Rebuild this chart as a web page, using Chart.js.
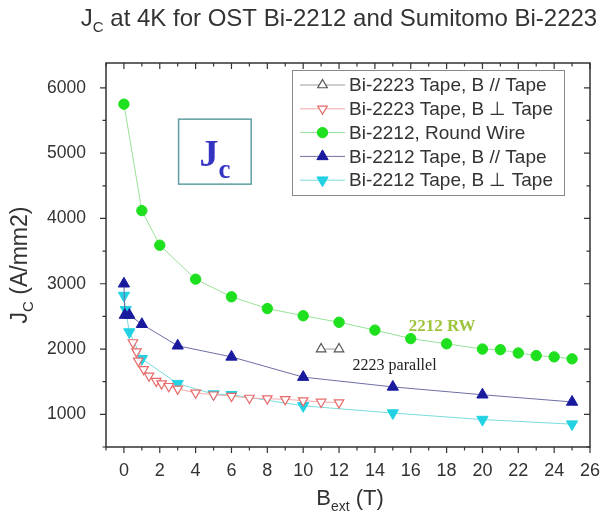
<!DOCTYPE html>
<html>
<head>
<meta charset="utf-8">
<script src="https://cdn.jsdelivr.net/npm/chart.js@4.4.0/dist/chart.umd.min.js"></script>
<style>
  html, body { margin: 0; padding: 0; background: #fff; }
  #wrap { width: 614px; height: 524px; }
</style>
</head>
<body>
<div id="wrap"><canvas id="myChart" width="614" height="524"></canvas></div>
<script>
// field (T) and Jc (A/mm2)
const rwField = [0, 1, 2, 4, 6, 8, 10, 12, 14, 16, 18, 20, 21, 22, 23, 24, 25];
const rwJc = [5750, 4120, 3590, 3070, 2800, 2620, 2510, 2410, 2290, 2160, 2080, 2000, 1990, 1940, 1900, 1880, 1850];

const tapeParField = [0, 0.05, 0.3, 1, 3, 6, 10, 15, 20, 25];
const tapeParJc = [3000, 2520, 2520, 2380, 2050, 1880, 1570, 1420, 1300, 1190];

const tapePerpField = [0, 0.1, 0.3, 1, 3, 5, 6, 10, 15, 20, 25];
const tapePerpJc = [2820, 2600, 2260, 1850, 1470, 1310, 1300, 1130, 1020, 920, 850];

const b2223PerpField = [0.5, 0.7, 0.8, 1.1, 1.4, 1.8, 2.1, 2.5, 3, 4, 5, 6, 7, 8, 9, 10, 11, 12];
const b2223PerpJc = [2100, 1960, 1820, 1690, 1590, 1510, 1470, 1430, 1390, 1330, 1300, 1280, 1250, 1240, 1230, 1210, 1190, 1180];

const b2223ParField = [11, 12];
const b2223ParJc = [2000, 2000];

const seriesNames = [
    'Bi-2223 Tape, B // Tape',
    'Bi-2223 Tape, B \u22a5 Tape',
    'Bi-2212, Round Wire',
    'Bi-2212 Tape, B // Tape',
    'Bi-2212 Tape, B \u22a5 Tape'
];

const xTickLabels = [0, 2, 4, 6, 8, 10, 12, 14, 16, 18, 20, 22, 24, 26];
const yTicks = [500, 1000, 1500, 2000, 2500, 3000, 3500, 4000, 4500, 5000, 5500, 6000];
const yTickLabels = [1000, 2000, 3000, 4000, 5000, 6000];

const SANS = '"Liberation Sans", Arial, sans-serif';
const SERIF = '"Liberation Serif", "Times New Roman", serif';

function pts(xs, ys) {
    return xs.map((x, i) => ({ x: x, y: ys[i] }));
}

const styles = [
    { line: '#9a9a9a', fill: '#ffffff', border: '#555555', pointStyle: 'triangle', rotation: 0, radius: 5.5, bw: 1.2 },
    { line: '#f2aaaa', fill: '#ffffff', border: '#e86a6a', pointStyle: 'triangle', rotation: 180, radius: 5.5, bw: 1.2 },
    { line: '#98e298', fill: '#1ee01e', border: '#1ee01e', pointStyle: 'circle', rotation: 0, radius: 5.2, bw: 1 },
    { line: '#6e6ea6', fill: '#1a1a9e', border: '#1a1a9e', pointStyle: 'triangle', rotation: 0, radius: 6.5, bw: 1 },
    { line: '#7adcdc', fill: '#22d2e2', border: '#22d2e2', pointStyle: 'triangle', rotation: 180, radius: 6.5, bw: 1 }
];

const seriesData = [
    pts(b2223ParField, b2223ParJc),
    pts(b2223PerpField, b2223PerpJc),
    pts(rwField, rwJc),
    pts(tapeParField, tapeParJc),
    pts(tapePerpField, tapePerpJc)
];

const datasets = seriesData.map((d, i) => ({
    label: seriesNames[i],
    data: d,
    borderColor: styles[i].line,
    borderWidth: 1,
    backgroundColor: styles[i].fill,
    pointBackgroundColor: styles[i].fill,
    pointBorderColor: styles[i].border,
    pointBorderWidth: styles[i].bw,
    pointStyle: styles[i].pointStyle,
    pointRotation: styles[i].rotation,
    pointRadius: styles[i].radius,
    tension: 0
}));

// text with a subscript part, laid out from x on baseline y
function subText(ctx, parts, x, y, align) {
    let total = 0;
    parts.forEach(p => { ctx.font = p.font; total += ctx.measureText(p.text).width; });
    let cx = align === 'center' ? x - total / 2 : x;
    parts.forEach(p => {
        ctx.font = p.font;
        ctx.fillStyle = p.color;
        ctx.textAlign = 'left';
        ctx.textBaseline = 'alphabetic';
        ctx.fillText(p.text, cx, y + (p.dy || 0));
        cx += ctx.measureText(p.text).width;
    });
}

const decor = {
    id: 'decor',
    afterDatasetsDraw(chart) {
        const ctx = chart.ctx;
        const a = chart.chartArea;
        const sx = chart.scales.x, sy = chart.scales.y;
        ctx.save();

        // frame
        ctx.strokeStyle = '#333';
        ctx.lineWidth = 1.5;
        ctx.strokeRect(a.left, a.top, a.right - a.left, a.bottom - a.top);

        // ticks: out on left/bottom, in on top/right
        ctx.lineWidth = 1.2;
        ctx.beginPath();
        sx.ticks.forEach(t => {
            const px = sx.getPixelForValue(t.value);
            const len = xTickLabels.includes(t.value) ? 6 : 3.5;
            ctx.moveTo(px, a.bottom); ctx.lineTo(px, a.bottom + len);
            ctx.moveTo(px, a.top); ctx.lineTo(px, a.top + len);
        });
        sy.ticks.forEach(t => {
            const py = sy.getPixelForValue(t.value);
            const len = yTickLabels.includes(t.value) ? 6 : 3.5;
            ctx.moveTo(a.left, py); ctx.lineTo(a.left - len, py);
            ctx.moveTo(a.right, py); ctx.lineTo(a.right - len, py);
        });
        ctx.stroke();

        // legend
        const lx = 292, ly = 70, lw = 272, lh = 125;
        ctx.fillStyle = '#fff';
        ctx.fillRect(lx, ly, lw, lh);
        ctx.strokeStyle = '#888';
        ctx.lineWidth = 1;
        ctx.strokeRect(lx + 0.5, ly + 0.5, lw, lh);
        seriesNames.forEach((name, i) => {
            const ry = 85 + i * 23.8;
            const st = styles[i];
            ctx.strokeStyle = st.line;
            ctx.lineWidth = 1;
            ctx.beginPath();
            ctx.moveTo(300, ry); ctx.lineTo(345, ry);
            ctx.stroke();
            ctx.fillStyle = st.fill;
            ctx.strokeStyle = st.border;
            ctx.lineWidth = st.bw;
            Chart.helpers.drawPoint(ctx, {
                pointStyle: st.pointStyle, rotation: st.rotation,
                radius: st.radius, borderWidth: st.bw
            }, 322.5, ry);
            ctx.fillStyle = '#333';
            ctx.font = '19px ' + SANS;
            ctx.textAlign = 'left';
            ctx.textBaseline = 'middle';
            ctx.fillText(name, 349, ry + 1);
        });

        // Jc box
        const bx1 = sx.getPixelForValue(3.05), bx2 = sx.getPixelForValue(7.1);
        const by1 = sy.getPixelForValue(5520), by2 = sy.getPixelForValue(4525);
        ctx.strokeStyle = '#5f9ea0';
        ctx.lineWidth = 1.5;
        ctx.strokeRect(bx1, by1, bx2 - bx1, by2 - by1);
        subText(ctx, [
            { text: 'J', font: 'bold 38px ' + SERIF, color: '#3434c4' },
            { text: 'c', font: 'bold 27px ' + SERIF, color: '#3434c4', dy: 12 }
        ], (bx1 + bx2) / 2, by1 + 47, 'center');

        // series notes
        ctx.font = 'bold 17px ' + SERIF;
        ctx.fillStyle = '#9cc43a';
        ctx.textAlign = 'center';
        ctx.textBaseline = 'middle';
        ctx.fillText('2212 RW', sx.getPixelForValue(17.75), sy.getPixelForValue(2340));
        ctx.font = '16px ' + SERIF;
        ctx.fillStyle = '#222';
        ctx.fillText('2223 parallel', sx.getPixelForValue(15.1), sy.getPixelForValue(1740));

        // title
        subText(ctx, [
            { text: 'J', font: '24px ' + SANS, color: '#333' },
            { text: 'C', font: '15px ' + SANS, color: '#333', dy: 6 },
            { text: ' at 4K for OST Bi-2212 and Sumitomo Bi-2223', font: '24px ' + SANS, color: '#333' }
        ], 339, 26, 'center');

        // x axis title
        subText(ctx, [
            { text: 'B', font: '22px ' + SANS, color: '#333' },
            { text: 'ext', font: '14px ' + SANS, color: '#333', dy: 6 },
            { text: ' (T)', font: '22px ' + SANS, color: '#333' }
        ], 350, 505, 'center');

        // y axis title
        ctx.translate(27, 265);
        ctx.rotate(-Math.PI / 2);
        subText(ctx, [
            { text: 'J', font: '23px ' + SANS, color: '#333' },
            { text: 'C', font: '15px ' + SANS, color: '#333', dy: 6 },
            { text: ' (A/mm2)', font: '23px ' + SANS, color: '#333' }
        ], 0, 0, 'center');

        ctx.restore();
    }
};

const ctx = document.getElementById('myChart');

new Chart(ctx, {
    type: 'line',
    data: { datasets: datasets },
    options: {
        responsive: false,
        animation: false,
        layout: { padding: { top: 63, right: 24, left: 0, bottom: 0 } },
        plugins: {
            legend: { display: false },
            title: { display: false },
            tooltip: { enabled: false }
        },
        scales: {
            x: {
                type: 'linear',
                min: -1,
                max: 26,
                grid: { display: false },
                border: { display: false },
                afterFit: s => { s.height = 77; },
                ticks: {
                    stepSize: 1,
                    autoSkip: false,
                    maxRotation: 0,
                    padding: 5,
                    color: '#333',
                    font: { family: SANS, size: 18 },
                    callback: v => xTickLabels.includes(v) ? String(v) : ''
                }
            },
            y: {
                type: 'linear',
                min: 500,
                max: 6380,
                grid: { display: false },
                border: { display: false },
                afterFit: s => { s.width = 106; },
                afterBuildTicks: s => { s.ticks = yTicks.map(v => ({ value: v })); },
                ticks: {
                    autoSkip: false,
                    padding: 12,
                    color: '#333',
                    font: { family: SANS, size: 17.5 },
                    callback: v => yTickLabels.includes(v) ? String(v) : ''
                }
            }
        }
    },
    plugins: [decor]
});
</script>
</body>
</html>
